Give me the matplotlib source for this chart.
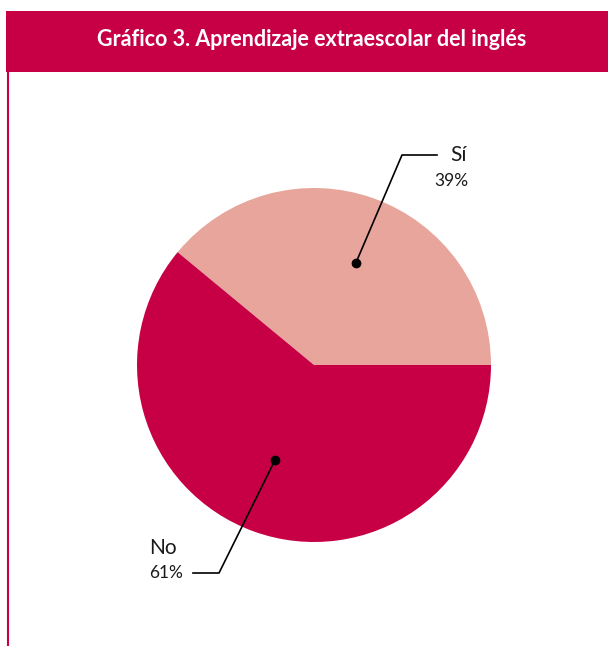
import matplotlib
matplotlib.use("Agg")
import matplotlib.pyplot as plt
import numpy as np
from matplotlib.patches import Rectangle

title = "Gráfico 3. Aprendizaje extraescolar del inglés"
categories = ["Sí", "No"]
values = [39, 61]
colors = ["#E8A59C", "#C70046"]
crimson = "#C70046"

W, H = 608, 646
fig = plt.figure(figsize=(W / 100, H / 100), dpi=100)
ax = fig.add_axes([0, 0, 1, 1])
ax.set_xlim(0, W)
ax.set_ylim(0, H)
ax.set_aspect("equal")
ax.axis("off")

# banner
ax.add_patch(Rectangle((6, H - 72), W - 6, 61, color=crimson, lw=0))
ax.text(312, H - 39, title, color="white", fontsize=15.5, fontweight="bold",
        family=["Lato", "DejaVu Sans"], ha="center", va="center")
# left rule
ax.plot([7.5, 7.5], [0, H - 72], color=crimson, lw=1.5)

cx, cy, r = 314, H - 365, 177
wedges, _ = ax.pie(values, colors=colors, startangle=0, counterclock=True,
                   center=(cx, cy), radius=r, frame=True,
                   wedgeprops=dict(linewidth=0))
ax.set_xlim(0, W)
ax.set_ylim(0, H)
ax.axis("off")

label_specs = {
    "Sí": dict(frac=0.62, elbow=(402, H - 155), end=(437, H - 155),
               name_xy=(450, H - 155), pct_xy=(451, H - 181), ha="left", pha="center"),
    "No": dict(frac=0.58, elbow=(219, H - 573), end=(193, H - 573),
               name_xy=(149, H - 548), pct_xy=(149, H - 573), ha="left", pha="left"),
}

for w, cat, val in zip(wedges, categories, values):
    spec = label_specs[cat]
    mid = np.deg2rad((w.theta1 + w.theta2) / 2 - 2.5)
    px = cx + spec["frac"] * r * np.cos(mid)
    py = cy + spec["frac"] * r * np.sin(mid)
    ex, ey = spec["elbow"]
    tx, ty = spec["end"]
    ax.plot([px, ex, tx], [py, ey, ty], color="black", lw=1.2)
    ax.plot(px, py, "o", color="black", ms=6)
    ax.text(*spec["name_xy"], cat, fontsize=15, family=["Lato", "DejaVu Sans"],
            ha=spec["ha"], va="center", color="#1a1a1a")
    ax.text(*spec["pct_xy"], f"{val}%", fontsize=12.5, family=["Lato", "DejaVu Sans"],
            ha=spec["pha"], va="center", color="#1a1a1a")

fig.savefig("out.png", dpi=100)
